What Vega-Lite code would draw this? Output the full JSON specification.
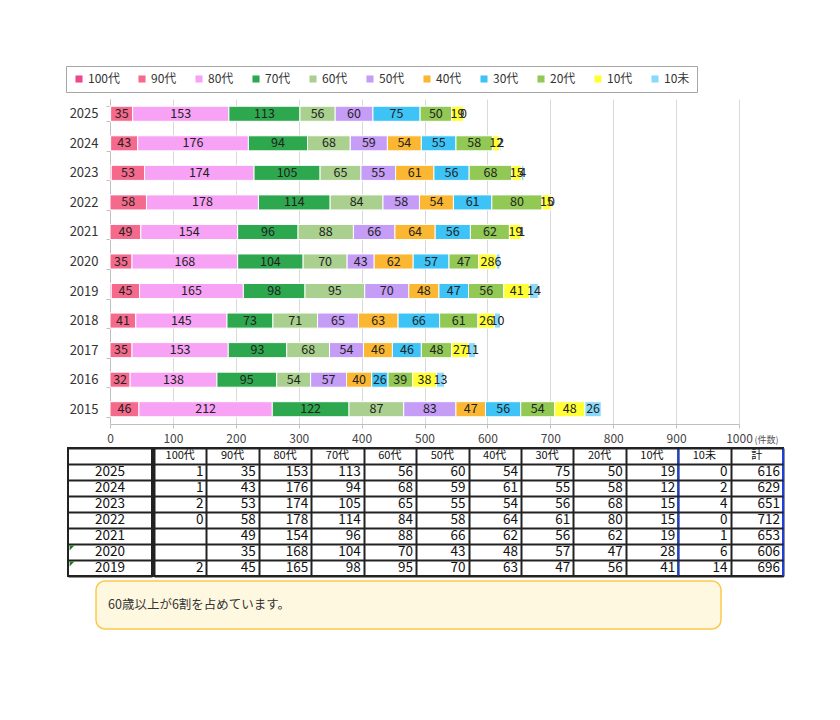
{
  "$schema": "https://vega.github.io/schema/vega-lite/v6.json",
  "background": "white",
  "padding": {"left": 65, "top": 65, "right": 5, "bottom": 5},
  "spacing": 2,
  "config": {
    "font": "Noto Sans CJK JP",
    "view": {"stroke": null}
  },
  "datasets": {
    "bars": [
      {"year": 2025, "100代": 1, "90代": 35, "80代": 153, "70代": 113, "60代": 56, "50代": 60, "30代": 75, "20代": 50, "10代": 19, "10未": 0},
      {"year": 2024, "100代": 1, "90代": 43, "80代": 176, "70代": 94, "60代": 68, "50代": 59, "40代": 54, "30代": 55, "20代": 58, "10代": 12, "10未": 2},
      {"year": 2023, "100代": 2, "90代": 53, "80代": 174, "70代": 105, "60代": 65, "50代": 55, "40代": 61, "30代": 56, "20代": 68, "10代": 15, "10未": 4},
      {"year": 2022, "100代": 0, "90代": 58, "80代": 178, "70代": 114, "60代": 84, "50代": 58, "40代": 54, "30代": 61, "20代": 80, "10代": 15, "10未": 0},
      {"year": 2021, "90代": 49, "80代": 154, "70代": 96, "60代": 88, "50代": 66, "40代": 64, "30代": 56, "20代": 62, "10代": 19, "10未": 1},
      {"year": 2020, "90代": 35, "80代": 168, "70代": 104, "60代": 70, "50代": 43, "40代": 62, "30代": 57, "20代": 47, "10代": 28, "10未": 6},
      {"year": 2019, "100代": 2, "90代": 45, "80代": 165, "70代": 98, "60代": 95, "50代": 70, "40代": 48, "30代": 47, "20代": 56, "10代": 41, "10未": 14},
      {"year": 2018, "90代": 41, "80代": 145, "70代": 73, "60代": 71, "50代": 65, "40代": 63, "30代": 66, "20代": 61, "10代": 26, "10未": 10},
      {"year": 2017, "90代": 35, "80代": 153, "70代": 93, "60代": 68, "50代": 54, "40代": 46, "30代": 46, "20代": 48, "10代": 27, "10未": 11},
      {"year": 2016, "90代": 32, "80代": 138, "70代": 95, "60代": 54, "50代": 57, "40代": 40, "30代": 26, "20代": 39, "10代": 38, "10未": 13},
      {"year": 2015, "90代": 46, "80代": 212, "70代": 122, "60代": 87, "50代": 83, "40代": 47, "30代": 56, "20代": 54, "10代": 48, "10未": 26}
    ],
    "table": [
      {"year": 2025, "100代": 1, "90代": 35, "80代": 153, "70代": 113, "60代": 56, "50代": 60, "40代": 54, "30代": 75, "20代": 50, "10代": 19, "10未": 0, "計": 616},
      {"year": 2024, "100代": 1, "90代": 43, "80代": 176, "70代": 94, "60代": 68, "50代": 59, "40代": 61, "30代": 55, "20代": 58, "10代": 12, "10未": 2, "計": 629},
      {"year": 2023, "100代": 2, "90代": 53, "80代": 174, "70代": 105, "60代": 65, "50代": 55, "40代": 54, "30代": 56, "20代": 68, "10代": 15, "10未": 4, "計": 651},
      {"year": 2022, "100代": 0, "90代": 58, "80代": 178, "70代": 114, "60代": 84, "50代": 58, "40代": 64, "30代": 61, "20代": 80, "10代": 15, "10未": 0, "計": 712},
      {"year": 2021, "90代": 49, "80代": 154, "70代": 96, "60代": 88, "50代": 66, "40代": 62, "30代": 56, "20代": 62, "10代": 19, "10未": 1, "計": 653},
      {"year": 2020, "90代": 35, "80代": 168, "70代": 104, "60代": 70, "50代": 43, "40代": 48, "30代": 57, "20代": 47, "10代": 28, "10未": 6, "計": 606},
      {"year": 2019, "100代": 2, "90代": 45, "80代": 165, "70代": 98, "60代": 95, "50代": 70, "40代": 63, "30代": 47, "20代": 56, "10代": 41, "10未": 14, "計": 696}
    ]
  },
  "vconcat": [
    {
      "spacing": 0,
      "hconcat": [
        {"width": 1, "height": 1, "data": {"values": []}, "mark": "point"},
        {
          "width": 629,
          "height": 325,
          "data": {"name": "bars"},
          "transform": [
            {"fold": ["100代", "90代", "80代", "70代", "60代", "50代", "40代", "30代", "20代", "10代", "10未"], "as": ["age", "v"]},
            {"filter": "isValid(datum.v)"},
            {"calculate": "indexof(['100代','90代','80代','70代','60代','50代','40代','30代','20代','10代','10未'], datum.age)", "as": "ord"},
            {"stack": "v", "groupby": ["year"], "sort": [{"field": "ord", "order": "ascending"}], "as": ["v0", "v1"]},
            {"calculate": "(datum.v0 + datum.v1) / 2", "as": "mid"}
          ],
          "encoding": {
            "y": {
              "field": "year",
              "type": "ordinal",
              "sort": "descending",
              "scale": {"paddingInner": 0.49, "paddingOuter": 0.245},
              "axis": {
                "title": null,
                "tickBand": "extent",
                "domainColor": "#bfbfbf",
                "tickColor": "#bfbfbf",
                "tickSize": 4,
                "labelPadding": 8,
                "labelFontSize": 13,
                "labelColor": "#333333",
                "grid": false
              }
            }
          },
          "layer": [
            {
              "mark": {"type": "bar", "stroke": "white", "strokeWidth": 1},
              "encoding": {
                "x": {
                  "field": "v0",
                  "type": "quantitative",
                  "scale": {"domain": [0, 1000], "nice": false},
                  "axis": {
                    "title": "(件数)",
                    "values": [0, 100, 200, 300, 400, 500, 600, 700, 800, 900, 1000],
                    "format": "d",
                    "grid": true,
                    "gridColor": "#d9d9d9",
                    "domainColor": "#bfbfbf",
                    "tickColor": "#bfbfbf",
                    "tickSize": 4,
                    "labelPadding": 5,
                    "labelFlush": false,
                    "labelFontSize": 12,
                    "labelColor": "#444444",
                    "titleX": 656,
                    "titleY": 15,
                    "titleFontSize": 9,
                    "titleFontWeight": "normal",
                    "titleColor": "#555555",
                    "titleBaseline": "middle",
                    "titleAlign": "center"
                  }
                },
                "x2": {"field": "v1"},
                "color": {
                  "field": "age",
                  "type": "nominal",
                  "scale": {
                    "domain": ["100代", "90代", "80代", "70代", "60代", "50代", "40代", "30代", "20代", "10代", "10未"],
                    "range": ["#f0468c", "#f56a8c", "#f8a2f6", "#2ea84f", "#a9d08e", "#c59cf6", "#fbb731", "#3dc3f6", "#92c955", "#ffff33", "#88d9fa"]
                  },
                  "legend": {
                    "title": null,
                    "orient": "none",
                    "legendX": -2,
                    "legendY": -33,
                    "direction": "horizontal",
                    "columns": 11,
                    "gridAlign": "none",
                    "columnPadding": 16,
                    "symbolType": "square",
                    "symbolSize": 50,
                    "symbolStrokeWidth": 0,
                    "labelOffset": 3,
                    "labelFontSize": 12,
                    "labelColor": "#333333",
                    "padding": 7,
                    "strokeColor": "#a6a6a6",
                    "fillColor": "white"
                  }
                }
              }
            },
            {
              "transform": [{"filter": "datum.age !== '100代'"}],
              "mark": {"type": "text", "fontSize": 12.5, "color": "#222222"},
              "encoding": {
                "x": {"field": "mid", "type": "quantitative"},
                "text": {"field": "v", "type": "quantitative"}
              }
            }
          ]
        }
      ]
    },
    {
      "spacing": 0,
      "hconcat": [
        {
          "width": 84,
          "height": 128,
          "view": {"stroke": "#222222", "strokeWidth": 2},
          "data": {"name": "table"},
          "layer": [
            {
              "mark": {"type": "text", "fontSize": 13.5, "color": "#111111"},
              "encoding": {
                "y": {
                  "field": "year",
                  "type": "ordinal",
                  "scale": {"domain": ["header", 2025, 2024, 2023, 2022, 2021, 2020, 2019], "paddingInner": 0, "paddingOuter": 0},
                  "axis": {"grid": true, "tickBand": "extent", "labels": false, "ticks": false, "domain": false, "title": null, "gridColor": "#222222", "gridWidth": 2}
                },
                "text": {"field": "year", "type": "ordinal"}
              }
            },
            {
              "transform": [{"filter": "datum.year === 2020 || datum.year === 2019"}],
              "mark": {"type": "point", "shape": "M0.4,0.4L1.6,0.4L0.4,1.6Z", "filled": true, "color": "#1e7b1e", "size": 64, "opacity": 1},
              "encoding": {
                "x": {"datum": 0, "type": "quantitative", "scale": {"domain": [0, 1]}, "axis": null},
                "y": {"field": "year", "type": "ordinal", "bandPosition": 0}
              }
            }
          ]
        },
        {
          "width": 629,
          "height": 128,
          "view": {"stroke": "#222222", "strokeWidth": 2},
          "layer": [
            {
              "data": {"name": "table"},
              "transform": [
                {"fold": ["100代", "90代", "80代", "70代", "60代", "50代", "40代", "30代", "20代", "10代", "10未", "計"], "as": ["col", "n"]},
                {"filter": "isValid(datum.n)"}
              ],
              "mark": {"type": "text", "align": "right", "dx": -3, "fontSize": 13.5, "color": "#111111"},
              "encoding": {
                "x": {
                  "field": "col",
                  "type": "nominal",
                  "bandPosition": 1,
                  "scale": {"domain": ["100代", "90代", "80代", "70代", "60代", "50代", "40代", "30代", "20代", "10代", "10未", "計"], "paddingInner": 0, "paddingOuter": 0},
                  "axis": {"grid": true, "tickBand": "extent", "labels": false, "ticks": false, "domain": false, "title": null, "gridColor": "#222222", "gridWidth": 2, "zindex": 0}
                },
                "y": {
                  "field": "year",
                  "type": "ordinal",
                  "scale": {"domain": ["header", 2025, 2024, 2023, 2022, 2021, 2020, 2019], "paddingInner": 0, "paddingOuter": 0},
                  "axis": {"grid": true, "tickBand": "extent", "labels": false, "ticks": false, "domain": false, "title": null, "gridColor": "#222222", "gridWidth": 2, "zindex": 1}
                },
                "text": {"field": "n", "type": "quantitative"}
              }
            },
            {
              "data": {"name": "table"},
              "transform": [
                {"fold": ["100代", "90代", "80代", "70代", "60代", "50代", "40代", "30代", "20代", "10代", "10未", "計"], "as": ["col", "n"]},
                {"aggregate": [{"op": "count", "as": "k"}], "groupby": ["col"]}
              ],
              "mark": {"type": "text", "fontSize": 11, "color": "#111111"},
              "encoding": {
                "x": {"field": "col", "type": "nominal"},
                "y": {"datum": "header", "type": "ordinal"},
                "text": {"field": "col", "type": "nominal"}
              }
            },
            {
              "data": {"values": [{}]},
              "mark": {"type": "rule", "color": "#1f3fd6", "strokeWidth": 2},
              "encoding": {"x": {"datum": "10未", "type": "nominal", "bandPosition": 0}}
            },
            {
              "data": {"values": [{}]},
              "mark": {"type": "rule", "color": "#1f3fd6", "strokeWidth": 2},
              "encoding": {"x": {"datum": "計", "type": "nominal", "bandPosition": 1}}
            }
          ]
        }
      ]
    },
    {
      "spacing": 26,
      "hconcat": [
        {"width": 1, "height": 1, "data": {"values": []}, "mark": "point"},
        {
          "width": 625,
          "height": 48,
          "view": {"fill": "#fff8e0", "stroke": "#fbc94e", "strokeWidth": 1.5, "cornerRadius": 9},
          "data": {"values": [{"note": "60歳以上が6割を占めています。"}]},
          "mark": {"type": "text", "align": "left", "dx": 12, "fontSize": 12.5, "color": "#333333"},
          "encoding": {
            "x": {"datum": 0, "type": "quantitative", "scale": {"domain": [0, 1]}, "axis": null},
            "text": {"field": "note"}
          }
        }
      ]
    }
  ]
}
